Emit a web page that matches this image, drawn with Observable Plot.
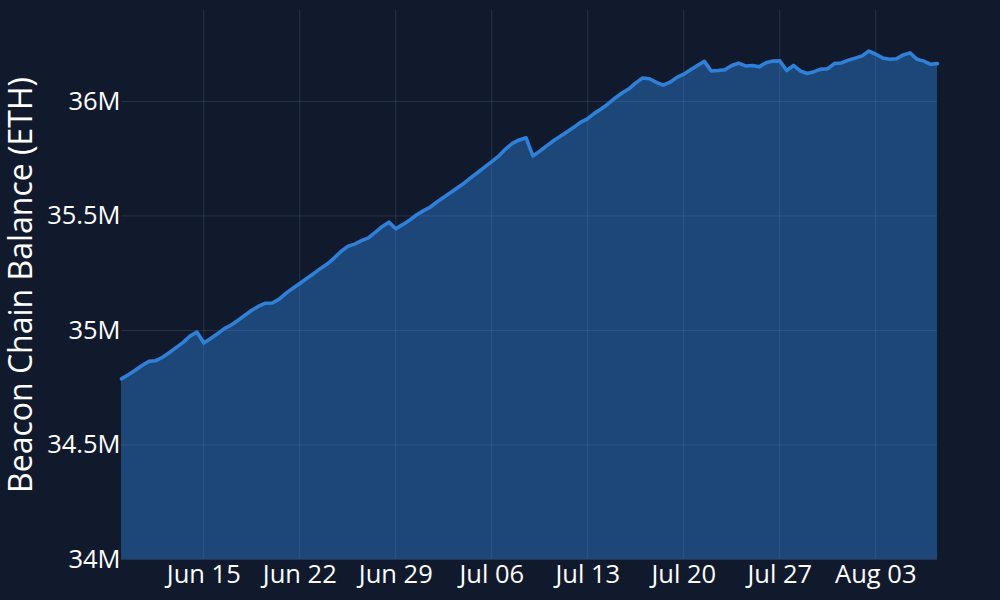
<!DOCTYPE html>
<html>
<head>
<meta charset="utf-8">
<script src="https://cdn.jsdelivr.net/npm/d3@7"></script>
<script src="https://cdn.jsdelivr.net/npm/@observablehq/plot@0.6"></script>
<style>
  html, body { margin: 0; padding: 0; background: #111a2c; }
  #chart { width: 1000px; height: 600px; }
</style>
</head>
<body>
<div id="chart"></div>
<script>
// Sampling: one reading every 12 hours starting 2025-06-09 00:00 UTC
const startDate = "2025-06-09T00:00:00Z";
const stepHours = 12;

// Beacon chain balance, millions of ETH
const balanceM = [
  34.789, 34.807, 34.826, 34.847, 34.865, 34.868, 34.883, 34.904, 34.926, 34.948,
  34.976, 34.993, 34.945, 34.965, 34.986, 35.008, 35.024, 35.045, 35.066, 35.088,
  35.106, 35.119, 35.120, 35.137, 35.163, 35.184, 35.205, 35.227, 35.248, 35.270,
  35.290, 35.316, 35.345, 35.367, 35.377, 35.392, 35.404, 35.428, 35.453, 35.473,
  35.444, 35.462, 35.481, 35.504, 35.522, 35.538, 35.561, 35.582, 35.602, 35.623,
  35.644, 35.668, 35.691, 35.714, 35.737, 35.761, 35.792, 35.817, 35.832, 35.841,
  35.762, 35.783, 35.806, 35.828, 35.848, 35.868, 35.888, 35.910, 35.925, 35.949,
  35.968, 35.990, 36.015, 36.037, 36.055, 36.081, 36.102, 36.099, 36.083, 36.071,
  36.084, 36.105, 36.119, 36.138, 36.157, 36.175, 36.133, 36.135, 36.138, 36.157,
  36.167, 36.155, 36.157, 36.151, 36.169, 36.176, 36.177, 36.135, 36.157, 36.133,
  36.122, 36.130, 36.141, 36.143, 36.166, 36.168, 36.180, 36.189, 36.199, 36.220,
  36.206, 36.190, 36.184, 36.186, 36.203, 36.212, 36.184, 36.176, 36.162, 36.165
];

const yTicks = [34e6, 34.5e6, 35e6, 35.5e6, 36e6];
const yLabel = "Beacon Chain Balance (ETH)";

const start = new Date(startDate);
const data = balanceM.map((v, i) => ({
  date: d3.utcHour.offset(start, i * stepHours),
  balance: v * 1e6
}));

const bg = "#111a2c";
const font = "'Open Sans', 'Liberation Sans', Arial, sans-serif";

const chart = Plot.plot({
  width: 1000,
  height: 600,
  marginLeft: 121,
  marginRight: 63,
  marginTop: 10,
  marginBottom: 41,
  style: { background: bg, color: "#ffffff", fontFamily: font },
  x: {
    type: "utc",
    domain: [data[0].date, data[data.length - 1].date]
  },
  y: {
    domain: [34e6, 36.397e6]
  },
  marks: [
    Plot.areaY(data, { x: "date", y1: 34e6, y2: "balance", fill: "#1d4679" }),
    Plot.gridX({ ticks: d3.utcWeek.every(1), stroke: "#6f8fc4", strokeOpacity: 0.22, strokeWidth: 1 }),
    Plot.gridY(yTicks, { stroke: "#6f8fc4", strokeOpacity: 0.22, strokeWidth: 1 }),
    Plot.lineY(data, { x: "date", y: "balance", stroke: "#2f80d8", strokeWidth: 3.6, strokeLinejoin: "round" }),
    Plot.axisX({
      ticks: d3.utcWeek.every(1),
      tickFormat: d3.utcFormat("%b %d"),
      tickSize: 0,
      tickPadding: 5,
      fontSize: 25.5,
      fill: "#ffffff",
      label: null
    }),
    Plot.axisY(yTicks, {
      tickFormat: d => (d / 1e6) + "M",
      tickSize: 0,
      tickPadding: 1,
      fontSize: 25.5,
      fill: "#ffffff",
      label: null
    }),
    Plot.text([yLabel], {
      frameAnchor: "left",
      textAnchor: "middle",
      lineAnchor: "middle",
      dx: -100,
      rotate: -90,
      fontSize: 32,
      fill: "#ffffff",
      text: d => d
    })
  ]
});

document.getElementById("chart").appendChild(chart);
</script>
</body>
</html>
